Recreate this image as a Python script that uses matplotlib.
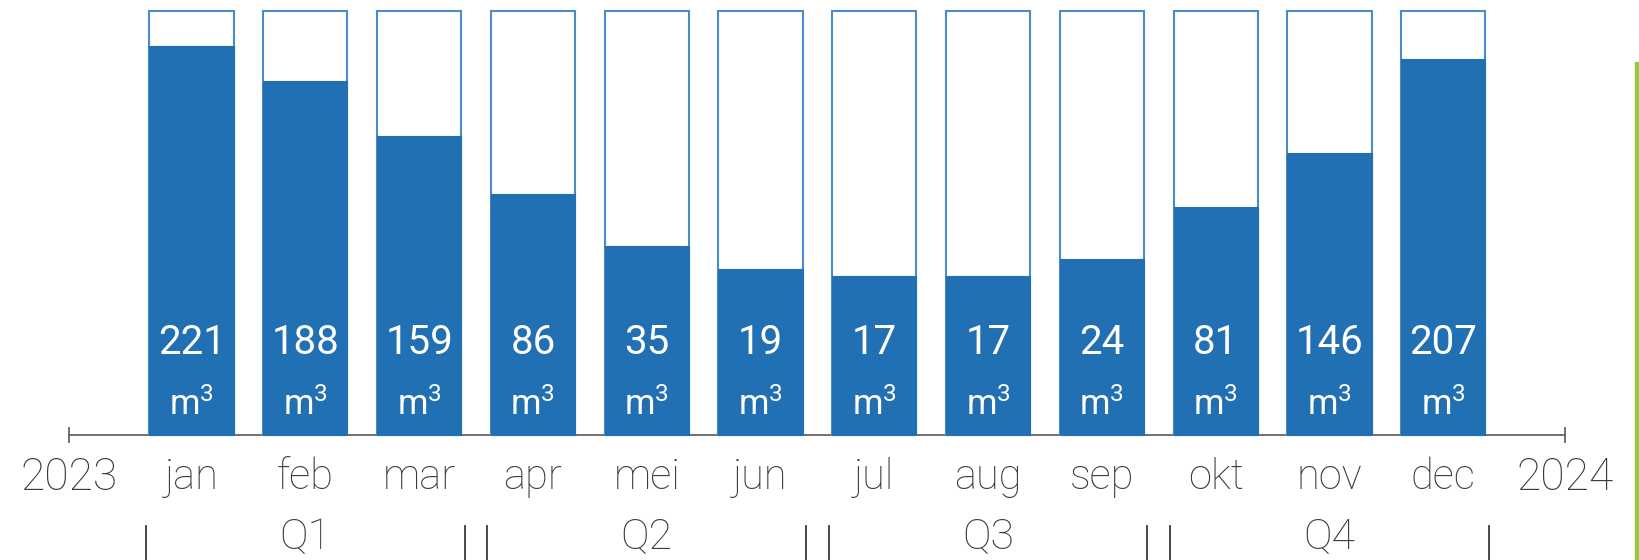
import matplotlib.pyplot as plt
from matplotlib.patches import Rectangle

plt.rcParams['font.family'] = ['Roboto', 'DejaVu Sans']
plt.rcParams['mathtext.fontset'] = 'custom'
plt.rcParams['mathtext.rm'] = 'Roboto'
plt.rcParams['mathtext.it'] = 'Roboto'

# data
months = ['jan', 'feb', 'mar', 'apr', 'mei', 'jun',
          'jul', 'aug', 'sep', 'okt', 'nov', 'dec']
values = [221, 188, 159, 86, 35, 19, 17, 17, 24, 81, 146, 207]
# filled share of each column (as drawn, not proportional to value)
fill_share = [0.917, 0.835, 0.705, 0.568, 0.446, 0.392,
              0.376, 0.376, 0.415, 0.538, 0.665, 0.887]
quarters = ['Q1', 'Q2', 'Q3', 'Q4']
year_start, year_end = '2023', '2024'

fill_col = '#2270B4'
edge_col = '#4A8CC8'
text_col = '#3a3a3a'
bar_w = 0.74

fig = plt.figure(figsize=(16.39, 5.60), dpi=100)
ax = fig.add_axes([0, 0, 1, 1])
ax.set_xlim(-1.683, 12.72)
ax.set_ylim(-0.2948, 1.026)
ax.axis('off')

x = list(range(len(months)))

# empty columns with outline, then the filled part
ax.bar(x, [1.0] * len(x), width=bar_w, bottom=0, color='white',
       edgecolor=edge_col, linewidth=1.5, zorder=2)
ax.bar(x, fill_share, width=bar_w, bottom=0, color=fill_col,
       edgecolor=fill_col, linewidth=0.8, zorder=3)

for xi, v in zip(x, values):
    ax.text(xi, 0.219, str(v), ha='center', va='center', color='white',
            fontsize=29, zorder=4)
    ax.text(xi, 0.072, r'm$^{3}$', ha='center', va='center', color='white',
            fontsize=25, zorder=4)

# time axis
ax_left, ax_right = -1.076, 12.07
ax.plot([ax_left, ax_right], [0, 0], color='#666666', lw=1.3, zorder=1)
for xe in (ax_left, ax_right):
    ax.plot([xe, xe], [-0.016, 0.016], color='#666666', lw=1.3)

ax.text(ax_left, -0.101, year_start, ha='center', va='center',
        color=text_col, fontsize=32, fontweight='light')
ax.text(ax_right, -0.101, year_end, ha='center', va='center',
        color=text_col, fontsize=32, fontweight='light')
for xi, m in zip(x, months):
    ax.text(xi, -0.101, m, ha='center', va='center',
            color=text_col, fontsize=30, fontweight='light')

# quarter brackets
for q, name in enumerate(quarters):
    first, last = 3 * q, 3 * q + 2
    left = first - bar_w / 2 - 0.03
    right = last + bar_w / 2 + 0.03
    for xe in (left, right):
        ax.plot([xe, xe], [-0.215, -0.30], color=text_col, lw=1.3)
    ax.text((first + last) / 2, -0.241, name, ha='center', va='center',
            color=text_col, fontsize=31, fontweight='light')

# green strip at the right edge
fig.patches.append(Rectangle((1635 / 1639, 0), 4 / 1639, 498 / 560,
                             transform=fig.transFigure, color='#95C83D',
                             zorder=5))

fig.savefig('out.png', dpi=100)
